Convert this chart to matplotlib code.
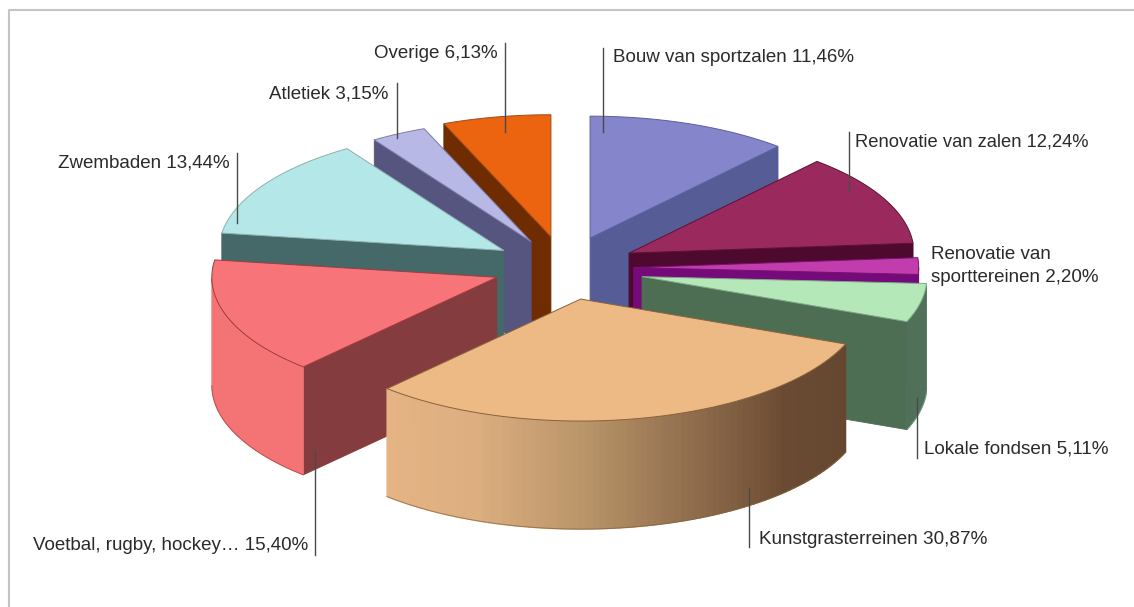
import numpy as np
import matplotlib
matplotlib.use('Agg')
import matplotlib.pyplot as plt
from matplotlib.colors import LinearSegmentedColormap
from matplotlib.patches import Polygon

plt.rcParams['font.family'] = ['Liberation Sans', 'DejaVu Sans']

# aandeel per post (%)
names = ['Bouw van sportzalen', 'Renovatie van zalen', 'Renovatie van\nsporttereinen',
         'Lokale fondsen', 'Kunstgrasterreinen', 'Voetbal, rugby, hockey…',
         'Zwembaden', 'Atletiek', 'Overige']
values = [11.46, 12.24, 2.20, 5.11, 30.87, 15.40, 13.44, 3.15, 6.13]
value_labels = ['11,46%', '12,24%', '2,20%', '5,11%', '30,87%', '15,40%', '13,44%', '3,15%', '6,13%']

top_colors = ['#8585cc', '#9a2a5e', '#c13dae', '#b4e8b8', '#edb985', '#f77578', '#b4e8e8', '#b8b8e6', '#ec6410']
wall_colors = ['#565c96', '#4e0a2e', '#750a7a', '#4e6e54', '#6b4a30', '#843c3e', '#456868', '#555580', '#6e2c00']
rim_colors = ['#565c96', '#4e0a2e', '#750a7a', '#50705a', None, '#f47476', '#456868', '#555580', '#6e2c00']
edge_colors = ['#5a5f9e', '#5e1030', '#7a1070', '#7faa88', '#8a6238', '#a33a3c', '#8fb0ae', '#7c7ca8', '#a04c10']

# teken volgorde, achter naar voor
draw_order = [0, 8, 7, 6, 1, 2, 3, 5, 4]

# geometrie van de taart in pixels
cx, cy = 564.7, 267.0
rx, ry = 285.0, 122.0
depth = 108.0
explode = 72.0
nudge = [(0, 0), (0, 0), (-3, 1), (7, 3), (0, 2), (0, 0), (0, 0), (0, 2), (0, 0)]

# (x, y begin, y eind) van de lijntjes, (x, y, ha) van de tekst
leader_lines = [(603, 48, 132), (849, 132, 192), None, (917, 398, 458), (749, 488, 547),
                (315, 450, 555), (237, 153, 223), (397, 83, 138), (505, 43, 132)]
label_pos = [(613, 57, 'left'), (855, 142, 'left'), (931, 266, 'left'), (924, 449, 'left'), (759, 539, 'left'),
             (308, 546, 'right'), (230, 163, 'right'), (388, 94, 'right'), (498, 53, 'right')]
label_size = [13.5, 13.2, 13.5, 13.6, 13.55, 13.5, 13.5, 13.5, 13.5]

grad = LinearSegmentedColormap.from_list('kunstgras', ['#e6b484', '#dcae80', '#b89468', '#8f6c4c', '#6a4a32', '#65472f'])


def disc(ang, apex):
    # hoek in graden, met de klok mee vanaf boven
    a = np.radians(ang)
    return apex[0] + rx * np.sin(a), apex[1] - ry * np.cos(a)


fig = plt.figure(figsize=(11.34, 6.07), dpi=100)
ax = fig.add_axes([0, 0, 1, 1])
ax.set_xlim(0, 1134)
ax.set_ylim(607, 0)
ax.axis('off')

# kader, alleen links en boven
ax.plot([8.5, 8.5, 1134], [607, 10, 10], color='#c4c4c4', lw=1.5)

fractions = np.array(values) / sum(values) * 360
stops = np.cumsum(fractions)
starts = stops - fractions

for i in draw_order:
    a0, a1 = starts[i], stops[i]
    mid = np.radians((a0 + a1) / 2)
    apex = (cx + explode * np.sin(mid) + nudge[i][0], cy - explode * ry / rx * np.cos(mid) + nudge[i][1])
    angs = np.linspace(a0, a1, 80)
    xs, ys = disc(angs, apex)

    # snijvlakken
    for ang, visible in ((a0, np.sin(np.radians(a0)) < -1e-6), (a1, np.sin(np.radians(a1)) > 1e-6)):
        if visible:
            ex, ey = disc(ang, apex)
            wall = [(apex[0], apex[1]), (ex, ey), (ex, ey + depth), (apex[0], apex[1] + depth)]
            ax.add_patch(Polygon(wall, closed=True, fc=wall_colors[i], ec=wall_colors[i], lw=0.6))

    # buitenrand, alleen het voorste deel
    front = np.where((angs > 90) & (angs < 270))[0]
    if len(front) > 1:
        if rim_colors[i] is None:
            for j0, j1 in zip(front[:-1], front[1:]):
                strip = [(xs[j0], ys[j0]), (xs[j1], ys[j1]), (xs[j1], ys[j1] + depth), (xs[j0], ys[j0] + depth)]
                col = grad((a1 - angs[j0]) / (a1 - a0))
                ax.add_patch(Polygon(strip, closed=True, fc=col, ec=col, lw=1.0))
        else:
            rim = np.column_stack([np.r_[xs[front], xs[front][::-1]], np.r_[ys[front], ys[front][::-1] + depth]])
            ax.add_patch(Polygon(rim, closed=True, fc=rim_colors[i], ec=rim_colors[i], lw=0.6))
        ax.plot(xs[front], ys[front] + depth, color=edge_colors[i], lw=0.7, alpha=0.7, zorder=1)

    # bovenvlak
    top = np.column_stack([np.r_[apex[0], xs], np.r_[apex[1], ys]])
    ax.add_patch(Polygon(top, closed=True, fc=top_colors[i], ec=edge_colors[i], lw=0.7))

for i in range(len(names)):
    if leader_lines[i] is not None:
        lx, y0, y1 = leader_lines[i]
        ax.plot([lx, lx], [y0, y1], color='#4a4a4a', lw=1.0, zorder=3)
    tx, ty, ha = label_pos[i]
    ax.text(tx, ty, names[i] + ' ' + value_labels[i], ha=ha, va='center', fontsize=label_size[i],
            color='#2a2a2a', linespacing=1.4)

fig.savefig('out.png', dpi=100)
